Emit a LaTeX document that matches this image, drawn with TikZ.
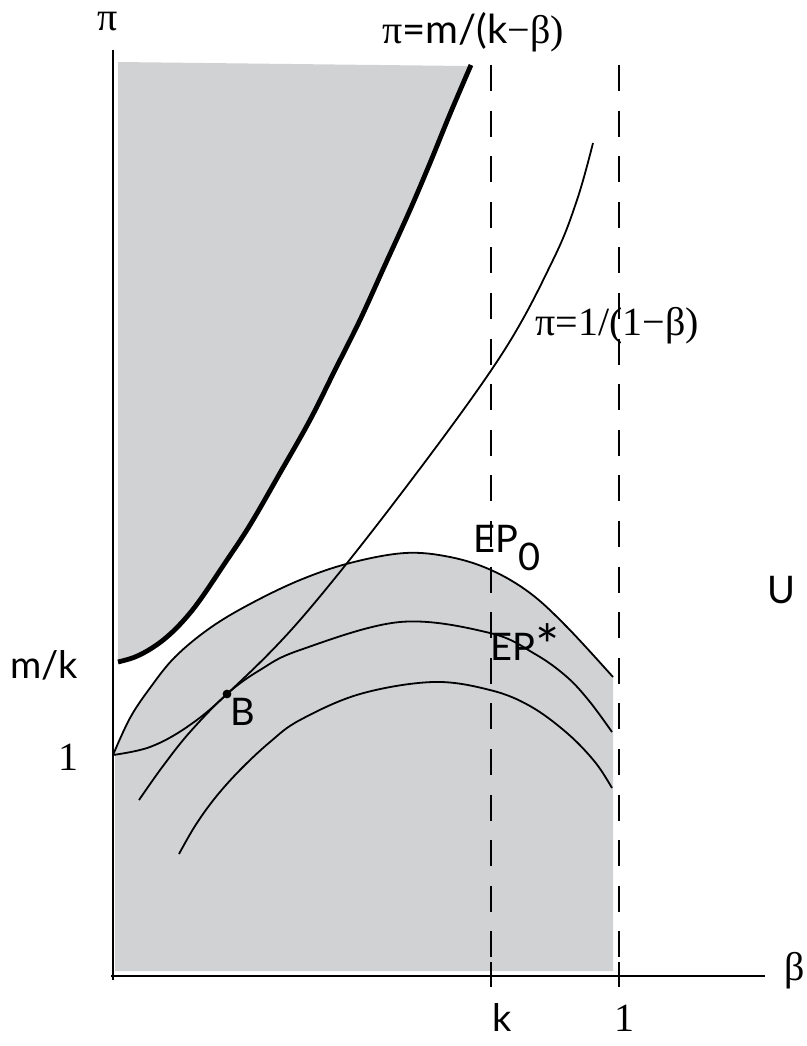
\documentclass[tikz,border=0pt]{standalone}
\usepackage{fontspec}
\setmainfont{Liberation Serif}
\setsansfont{Lato}
\definecolor{fillgray}{RGB}{209,210,212}
\begin{document}
\begin{tikzpicture}[x=0.5pt,y=-0.5pt,
  lbl/.style={font=\fontsize{19}{22}\selectfont\sffamily, inner sep=0pt, anchor=base west},
  num/.style={font=\fontsize{20}{22}\selectfont\rmfamily, inner sep=0pt, anchor=base west},
  curve/.style={line width=0.9pt},
  guide/.style={line width=0.9pt, dash pattern=on 13pt off 9.8pt}]
\useasboundingbox (0,0) rectangle (807,1046);
% shaded regions
\fill[fillgray] (118,62) -- (466,66) -- plot[smooth, tension=0.6] coordinates {(471,65) (450,114) (430,163) (410,210) (385,265) (360,320) (335,370) (310,420) (280,473) (250,525) (225,563) (200,600) (184,620) (168,636) (152,648) (135,657) (118,662)} -- cycle;
\fill[fillgray] (115,971) -- (115,755) -- plot[smooth, tension=0.6] coordinates {(113,755) (130,718) (150,688) (175,657) (210,628) (250,604) (300,580) (350,563) (405,553) (450,557) (491,570) (530,593) (567,627) (613,677)} -- (613,971) -- cycle;
% dashed verticals at k and 1
\draw[guide] (491,65) -- (491,962);
\draw[guide] (619,65) -- (619,962);
% axes
\draw[line width=1pt] (113,50) -- (113,980);
\draw[line width=1pt] (111,976) -- (765,976);
\draw[line width=1pt] (491,962) -- (491,987);
\draw[line width=1pt] (619,962) -- (619,987);
% curves
\draw[line width=2.4pt] plot[smooth, tension=0.6] coordinates {(118,662) (135,657) (152,648) (168,636) (184,620) (200,600) (225,563) (250,525) (280,473) (310,420) (335,370) (360,320) (385,265) (410,210) (430,163) (450,114) (471,65)};
\draw[curve] plot[smooth, tension=0.6] coordinates {(113,755) (150,747) (187,727) (227,694) (300,620) (400,495) (500,357) (553,260) (577,200) (593,143)};
\draw[curve] plot[smooth, tension=0.6] coordinates {(113,755) (130,718) (150,688) (175,657) (210,628) (250,604) (300,580) (350,563) (405,553) (450,557) (491,570) (530,593) (567,627) (613,677)};
\draw[curve] plot[smooth, tension=0.6] coordinates {(139,800) (163,766) (190,732) (227,694) (260,670) (300,650) (400,622) (490,633) (535,654) (567,677) (590,702) (612,732)};
\draw[curve] plot[smooth, tension=0.6] coordinates {(179,854) (195,826) (215,798) (240,770) (270,742) (300,720) (360,694) (433,682) (490,690) (530,706) (567,733) (595,762) (612,788)};
\fill (227,694) circle (2.2pt);
% labels
\node[num] (pilbl) at (97,30) {π};
\node[num] (betalbl) at (784,980) {β};
\node[num] (polelbl) at (382,43) {π\textsf{=m/(k}−β)};
\node[num] (geomlbl) at (535,335) {π=1/(1−β)};
\node[lbl] (mklbl) at (10,678) {m/k};
\node[num] (onelbl) at (58,770) {1};
\node[lbl] (blbl) at (230,725) {B};
\node[lbl] (epzero) at (473,552) {EP\raisebox{-9pt}{0}};
\node[lbl] (epstar) at (490,660) {EP\raisebox{-3pt}{\scalebox{1.5}{*}}};
\node[lbl] (ulbl) at (767,603) {U};
\node[lbl] (klbl) at (492,1031) {k};
\node[num] (oneb) at (614,1031) {1};
\end{tikzpicture}
\end{document}
